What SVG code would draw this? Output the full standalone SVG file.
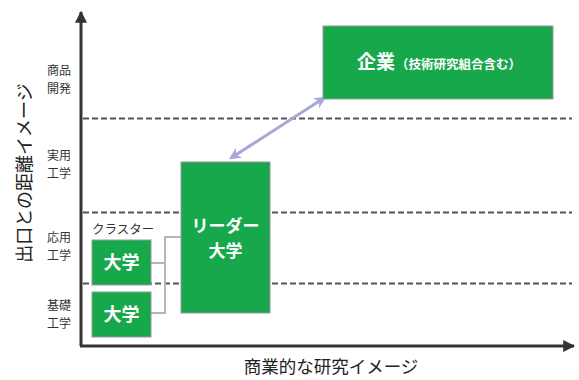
<svg xmlns="http://www.w3.org/2000/svg" width="579" height="380" viewBox="0 0 579 380">
<defs>
<style>
.jp{font-family:"Noto Sans CJK JP","Noto Sans CJK SC",sans-serif;}
.axis{stroke:#333;stroke-width:3;fill:none;}
.dash{stroke:#555;stroke-width:2;stroke-dasharray:6 3;fill:none;}
.box{fill:#17a84b;stroke:#9a9a9a;stroke-width:1;}
.wt{fill:#ffffff;font-weight:bold;text-anchor:middle;}
.lbl{fill:#333;font-size:12px;text-anchor:middle;}
.conn{stroke:#b5b5b5;stroke-width:2;fill:none;}
</style>
<marker id="ah" viewBox="0 0 10 10" refX="9" refY="5" markerWidth="4" markerHeight="4" orient="auto"><path d="M0,0 L10,5 L0,10 z" fill="#333"/></marker>
<marker id="pa" viewBox="0 0 10 10" refX="8" refY="5" markerWidth="4" markerHeight="4" orient="auto-start-reverse"><path d="M0,0 L10,5 L0,10 L3,5 z" fill="#a8a8d8"/></marker>
</defs>
<rect width="579" height="380" fill="#ffffff"/>
<g id="axes">
<line class="axis" x1="81" y1="346" x2="81" y2="12" marker-end="url(#ah)"/>
<line class="axis" x1="80" y1="346" x2="574" y2="346" marker-end="url(#ah)"/>
</g>
<g id="gridlines">
<line class="dash" x1="83" y1="118.5" x2="572" y2="118.5"/>
<line class="dash" x1="83" y1="212.5" x2="572" y2="212.5"/>
<line class="dash" x1="83" y1="283.5" x2="572" y2="283.5"/>
</g>
<g id="labels" class="jp">
<text transform="translate(31,173) rotate(-90)" text-anchor="middle" font-size="18" fill="#222">出口との距離イメージ</text>
<text x="331" y="373" text-anchor="middle" font-size="17.5" fill="#222">商業的な研究イメージ</text>
<text class="lbl" x="59" y="75">商品</text>
<text class="lbl" x="59" y="93">開発</text>
<text class="lbl" x="59" y="160">実用</text>
<text class="lbl" x="59" y="178">工学</text>
<text class="lbl" x="59" y="242">応用</text>
<text class="lbl" x="59" y="260">工学</text>
<text class="lbl" x="59" y="310">基礎</text>
<text class="lbl" x="59" y="328">工学</text>
<text x="92" y="234" font-size="12.5" fill="#333">クラスター</text>
</g>
<g id="connectors">
<polyline class="conn" points="151,263 165,263 165,237 181,237"/>
<polyline class="conn" points="151,313 165,313 165,263"/>
<line x1="231" y1="158" x2="324" y2="98" stroke="#a8a8d8" stroke-width="3" marker-start="url(#pa)" marker-end="url(#pa)"/>
</g>
<g id="node-univ1" class="jp">
<rect class="box" x="92" y="240" width="59" height="45"/>
<text class="wt" x="121.5" y="269" font-size="18">大学</text>
</g>
<g id="node-univ2" class="jp">
<rect class="box" x="92" y="292" width="59" height="45"/>
<text class="wt" x="121.5" y="321" font-size="18">大学</text>
</g>
<g id="node-leader" class="jp">
<rect class="box" x="181" y="162" width="89" height="151"/>
<text class="wt" x="225.5" y="232" font-size="17">リーダー</text>
<text class="wt" x="225.5" y="257" font-size="17">大学</text>
</g>
<g id="node-company" class="jp">
<rect class="box" x="323" y="26" width="230" height="73"/>
<text x="357" y="69" fill="#fff" font-weight="bold"><tspan font-size="19">企業</tspan><tspan font-size="12.5" dx="1">（技術研究組合含む）</tspan></text>
</g>
</svg>
